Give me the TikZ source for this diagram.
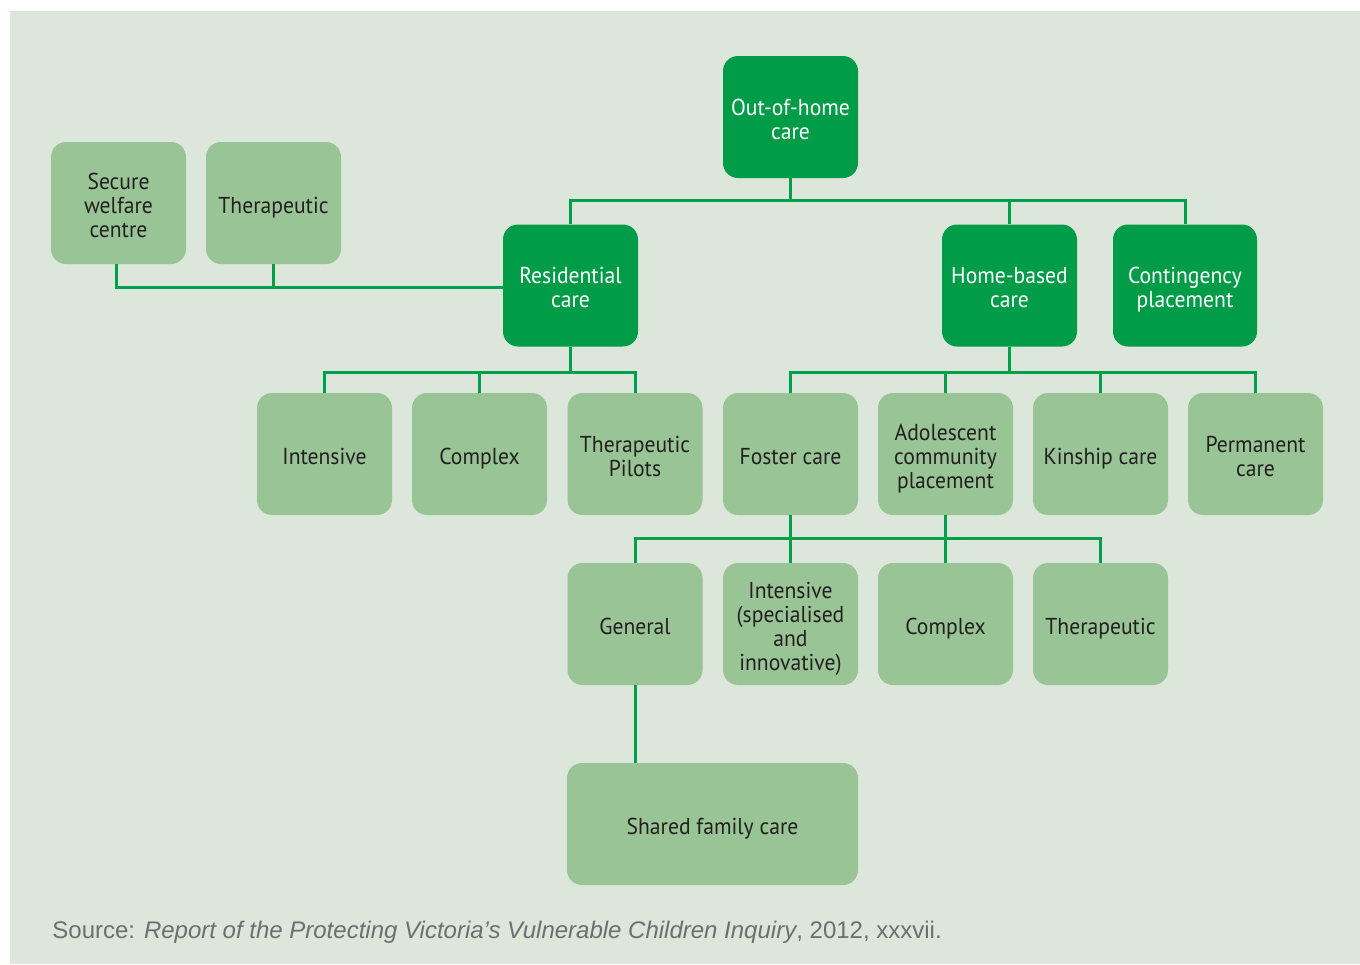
\documentclass[tikz,border=0pt]{standalone}
\usepackage{fontspec}
\setmainfont[FakeStretch=0.94]{PT Sans}
\newfontfamily\srcfont{Liberation Sans}
\definecolor{bgpanel}{HTML}{DCE6DA}
\definecolor{darkbox}{HTML}{009C48}
\definecolor{lightbox}{HTML}{99C495}
\definecolor{linkgreen}{HTML}{00A04A}
\definecolor{boxtext}{HTML}{231F20}
\definecolor{srcgrey}{HTML}{6D6E71}
% struts: fixed first-line height and last-line depth
\newcommand{\tp}{\rule{0pt}{13.5pt}}
\newcommand{\bt}{\rule[-3.5pt]{0pt}{3.5pt}}
\begin{document}
\begin{tikzpicture}[
            x=0.5pt,y=-0.5pt,
            every node/.style={
                rounded corners=7.5pt,
                align=center,
                minimum width=67.5pt,
                minimum height=61pt,
                inner sep=2pt,
                font=\fontsize{11.5}{12}\selectfont
            },
            mainbox/.style={fill=darkbox,text=white},
            subbox/.style={fill=lightbox,text=boxtext},
            link/.style={draw=linkgreen,line width=1.5pt}
        ]
            \useasboundingbox (0,0) rectangle (1360,964);
            \fill[bgpanel] (10,11) rectangle (1360,964);

            \node[mainbox] (ohc) at (790.5,117) {\tp Out-of-home\\care\bt};
            \node[subbox] (sec) at (118.5,203) {\tp Secure\\welfare\\centre\bt};
            \node[subbox] (ther) at (273.5,203) {\tp Therapeutic\bt};
            \node[mainbox] (res) at (570.5,285.5) {\tp Residential\\care\bt};
            \node[mainbox] (home) at (1009.5,285.5) {\tp Home-based\\care\bt};
            \node[mainbox,minimum width=72pt] (cont) at (1185,285.5) {\tp Contingency\\placement\bt};

            \node[subbox] (rint) at (324.5,454) {\tp Intensive\bt};
            \node[subbox] (rcplx) at (479.5,454) {\tp Complex\bt};
            \node[subbox] (pilot) at (635,454) {\tp Therapeutic\\Pilots\bt};
            \node[subbox] (foster) at (790.5,454) {\tp Foster care\bt};
            \node[subbox] (adol) at (945.5,454) {\tp Adolescent\\community\\placement\bt};
            \node[subbox] (kin) at (1100.5,454) {\tp Kinship care\bt};
            \node[subbox] (perm) at (1255.5,454) {\tp Permanent\\care\bt};

            \node[subbox] (gen) at (635,624) {\tp General\bt};
            \node[subbox] (fint) at (790.5,624) {\tp Intensive\\(specialised\\and\\innovative)\bt};
            \node[subbox] (fcplx) at (945.5,624) {\tp Complex\bt};
            \node[subbox] (fther) at (1100.5,624) {\tp Therapeutic\bt};
            \node[subbox,minimum width=145.5pt] (shared) at (712.5,824) {\tp Shared family care\bt};

            \draw[link] (ohc.south) -- ++(0,22) -| (res.north);
            \draw[link] (ohc.south) -- ++(0,22) -| (home.north);
            \draw[link] (ohc.south) -- ++(0,22) -| (cont.north);

            \coordinate (resjoin) at ([yshift=-1pt]res.west);
            \draw[link] ([xshift=-1pt]sec.south) |- (resjoin);
            \draw[link] (ther.south) -- (ther.south |- resjoin);

            \draw[link] (res.south) -- ++(0,26) -| (rint.north);
            \draw[link] (res.south) -- ++(0,26) -| (rcplx.north);
            \draw[link] (res.south) -- ++(0,26) -| (pilot.north);

            \draw[link] (home.south) -- ++(0,26) -| (foster.north);
            \draw[link] (home.south) -- ++(0,26) -| (adol.north);
            \draw[link] (home.south) -- ++(0,26) -| (kin.north);
            \draw[link] (home.south) -- ++(0,26) -| (perm.north);

            \draw[link] (foster.south) -- ++(0,23) -| (gen.north);
            \draw[link] (foster.south) -- ++(0,23) -| (fther.north);
            \draw[link] (foster.south) -- (fint.north);
            \draw[link] (adol.south) -- (fcplx.north);

            \draw[link] (gen.south) -- (shared.north -| gen.south);

            \node[anchor=base west,minimum width=0pt,minimum height=0pt,inner sep=0pt,
                text=srcgrey,font=\srcfont\fontsize{12}{14}\selectfont] (src) at (52,938)
                {Source: \textit{Report of the Protecting Victoria’s Vulnerable Children Inquiry}, 2012, xxxvii.};
        \end{tikzpicture}
\end{document}
